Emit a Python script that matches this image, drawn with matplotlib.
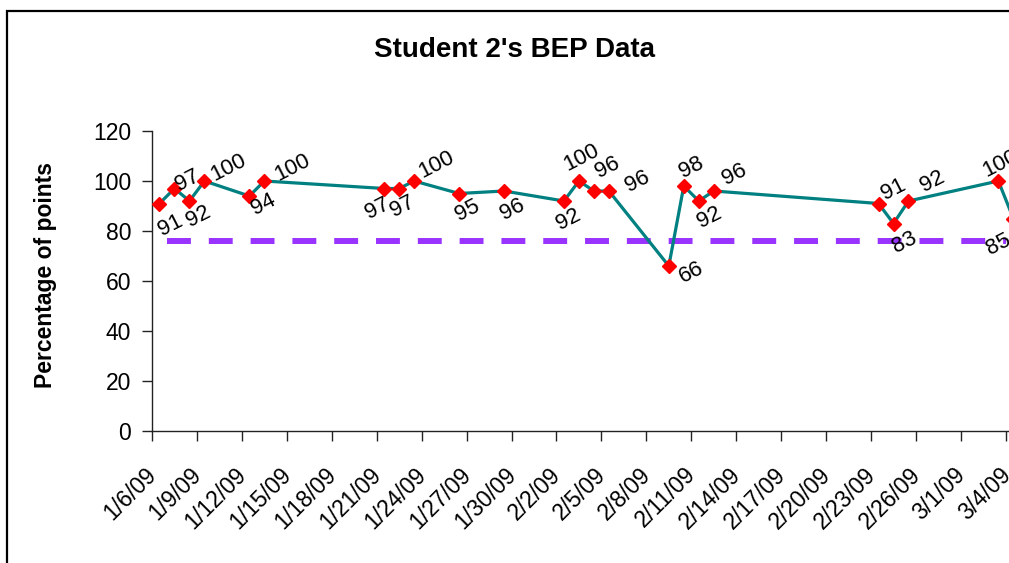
import matplotlib
matplotlib.use('Agg')
import matplotlib.pyplot as plt
import matplotlib.dates as mdates
import matplotlib.patches as patches
import matplotlib.transforms as mtrans
import datetime as dt

plt.rcParams['font.family'] = ['Liberation Sans', 'DejaVu Sans']

# data
dates = ['2009-01-06', '2009-01-07', '2009-01-08', '2009-01-09', '2009-01-12',
         '2009-01-13', '2009-01-21', '2009-01-22', '2009-01-23', '2009-01-26',
         '2009-01-29', '2009-02-02', '2009-02-03', '2009-02-04', '2009-02-05',
         '2009-02-09', '2009-02-10', '2009-02-11', '2009-02-12', '2009-02-23',
         '2009-02-24', '2009-02-25', '2009-03-03', '2009-03-04']
scores = [91, 97, 92, 100, 94, 100, 97, 97, 100, 95, 96, 92, 100, 96, 96,
          66, 98, 92, 96, 91, 83, 92, 100, 85]
goal = 76
goal_dates = ['2009-01-07', '2009-03-04']

# label offsets in pixels (dx, dy up)
lbl_off = [(11, -22), (13, 8), (9, -16), (24, 13), (14, -9), (28, 13),
           (-7, -20), (3, -18), (22, 16), (8, -17), (8, -19), (5, -19),
           (2, 23), (14, 23), (29, 9), (23, -6), (8, 18), (11, -17),
           (21, 16), (15, 14), (11, -19), (24, 19), (2, 17), (-15, -26)]

W, H = 1009, 563
fig = plt.figure(figsize=(W / 100, H / 100), dpi=100)
ax = fig.add_axes([152 / W, (H - 431) / H, (1040 - 152) / W, 300 / H])

d = [dt.datetime.strptime(s, '%Y-%m-%d') for s in dates]
x = [mdates.date2num(v) + 0.5 for v in d]  # points sit mid-day like Excel
gx = [mdates.date2num(dt.datetime.strptime(s, '%Y-%m-%d')) for s in goal_dates]

ax.plot(gx, [goal, goal], color='#9933FF', lw=4.3, dashes=(4, 3),
        solid_capstyle='butt', dash_capstyle='butt', zorder=2)
ax.plot(x, scores, color='#008080', lw=2.3, zorder=3)
ax.plot(x, scores, ls='none', marker='D', ms=7, mfc='#FF0000', mec='#FF0000', zorder=4)

for xi, v, (dx, dy) in zip(x, scores, lbl_off):
    ax.annotate(str(v), (xi, v), xytext=(dx, dy), textcoords='offset pixels',
                ha='center', va='center', rotation=27, fontsize=16, zorder=5)

x0 = mdates.date2num(dt.datetime(2009, 1, 6))
ax.set_xlim(x0, x0 + (1040 - 152) / 14.98)
ax.set_ylim(0, 120)
ax.set_yticks(range(0, 121, 20))

for s in ['top', 'right']:
    ax.spines[s].set_visible(False)
for s in ['left', 'bottom']:
    ax.spines[s].set_linewidth(1)
    ax.spines[s].set_color('#222222')
ax.tick_params(axis='both', direction='out', length=7, width=1, color='#222222',
               labelsize=16.5)
ax.tick_params(axis='y', pad=8)
ax.tick_params(axis='x', pad=16)

ticks = [dt.datetime(2009, 1, 6) + dt.timedelta(days=3 * i) for i in range(20)]
ax.set_xticks([mdates.date2num(t) for t in ticks])
ax.set_xticklabels([f'{t.month}/{t.day}/{t:%y}' for t in ticks], rotation=45,
                   ha='right', rotation_mode='anchor')
# nudge date labels left (after tick_params, which resets transforms)
shift = mtrans.ScaledTranslation(-7 / 100, 0, fig.dpi_scale_trans)
for tk in ax.xaxis.get_major_ticks():
    tk.label1.set_transform(tk.label1.get_transform() + shift)

fig.text(514 / W, (H - 50) / H, "Student 2's BEP Data", ha='center', va='center',
         fontsize=20, weight='bold')
fig.text(46 / W, (H - 275) / H, 'Percentage of points', ha='center', va='center',
         rotation=90, fontsize=16.5, weight='bold')

frame = patches.Rectangle((7 / W, -0.2), 1.5, (H - 11) / H + 0.2,
                          transform=fig.transFigure, fill=False, lw=1.6,
                          ec='black')
fig.add_artist(frame)

fig.savefig('out.png', dpi=100)
